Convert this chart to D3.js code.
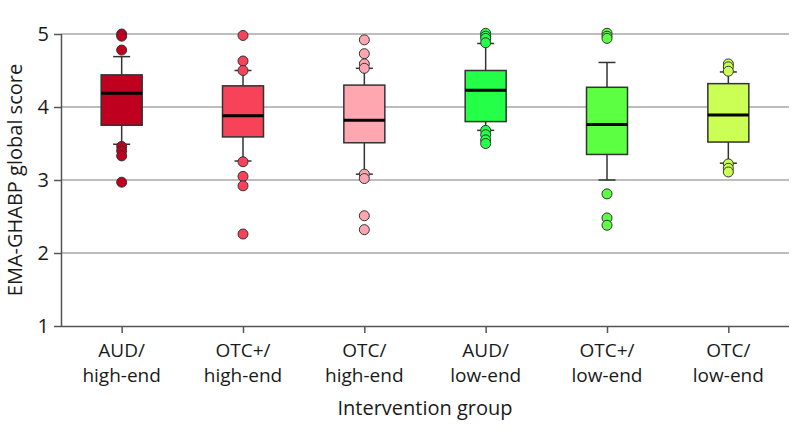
<!DOCTYPE html>
<html><head><meta charset="utf-8">
<script src="https://cdn.jsdelivr.net/npm/d3@7"></script>
<style>html,body{margin:0;padding:0;background:#fff;}svg{display:block;}</style>
</head><body>
<svg id="c" width="794" height="437"></svg>
<script>
const categories = ["AUD/|high-end","OTC+/|high-end","OTC/|high-end","AUD/|low-end","OTC+/|low-end","OTC/|low-end"];
const colors = ["#c0001f","#f6435a","#ffa7b1","#24ff47","#5cff41","#cbff55"];
const whiskerLow  = [3.49, 3.26, 3.08, 3.68, 3.00, 3.23];
const q1          = [3.75, 3.59, 3.51, 3.80, 3.35, 3.52];
const median      = [4.19, 3.88, 3.82, 4.23, 3.76, 3.89];
const q3          = [4.44, 4.29, 4.30, 4.50, 4.27, 4.32];
const whiskerHigh = [4.69, 4.50, 4.53, 4.87, 4.61, 4.48];
const outliers = [
  [5.00, 4.97, 4.78, 3.46, 3.40, 3.33, 2.97],
  [4.98, 4.63, 4.50, 3.25, 3.05, 2.92, 2.26],
  [4.92, 4.73, 4.59, 4.53, 3.08, 3.02, 2.51, 2.32],
  [5.01, 4.97, 4.94, 4.88, 3.68, 3.62, 3.55, 3.50],
  [5.01, 4.97, 4.94, 2.81, 2.48, 2.38],
  [4.59, 4.55, 4.49, 3.22, 3.16, 3.11]
];
const yTicks = [1,2,3,4,5];

(function(){
const svg = d3.select("#c");
const font = "'Open Sans', sans-serif";
const mL = 61, mR = 789, mT = 34, mB = 326;
const x = d3.scalePoint().domain(d3.range(categories.length)).range([mL, mR]).padding(0.5);
const y = d3.scaleLinear().domain([1,5]).range([mB, mT]);

// gridlines
svg.append("g").selectAll("line").data(yTicks.slice(1)).join("line")
  .attr("x1", mL).attr("x2", mR).attr("y1", d=>y(d)).attr("y2", d=>y(d))
  .attr("stroke", "#bdbdbd").attr("stroke-width", 2);

// axes
const ya = svg.append("g").attr("transform",`translate(${mL},0)`)
  .call(d3.axisLeft(y).tickValues(yTicks).tickSize(7).tickPadding(5).tickFormat(d3.format("d")));
const xa = svg.append("g").attr("transform",`translate(0,${mB})`)
  .call(d3.axisBottom(x).tickSize(7).tickFormat(""));
[ya, xa].forEach(g=>{
  g.selectAll("path").attr("stroke","#555").attr("stroke-width",1.5);
  g.selectAll("line").attr("stroke","#555").attr("stroke-width",1.5);
});
xa.select("path").attr("d", `M${mL},0.5H${mR}`);
ya.select("path").attr("d", `M0.5,${mB}V${mT}`);
ya.selectAll("text").attr("font-family",font).attr("font-size",20).attr("fill","#1a1a1a");

// category labels
const lab = svg.append("g");
categories.forEach((c,i)=>{
  const parts = c.split("|");
  const t = lab.append("text").attr("x", x(i)).attr("text-anchor","middle")
    .attr("font-family",font).attr("font-size",19).attr("fill","#1a1a1a");
  t.append("tspan").attr("x", x(i)).attr("y", 357).text(parts[0]);
  t.append("tspan").attr("x", x(i)).attr("y", 382).text(parts[1]);
});

svg.append("text").attr("x", (mL+mR)/2).attr("y", 415).attr("text-anchor","middle")
  .attr("font-family",font).attr("font-size",20).attr("fill","#1a1a1a").text("Intervention group");
svg.append("text").attr("transform",`translate(22,${(mT+mB)/2}) rotate(-90)`)
  .attr("text-anchor","middle").attr("font-family",font).attr("font-size",20).attr("fill","#1a1a1a")
  .text("EMA-GHABP global score");

// boxes
const bw = 41, cap = 17;
const g = svg.append("g").selectAll("g").data(categories.map((c,i)=>i)).join("g");
g.append("line").attr("x1",i=>x(i)).attr("x2",i=>x(i))
  .attr("y1",i=>y(whiskerHigh[i])).attr("y2",i=>y(q3[i])).attr("stroke","#333").attr("stroke-width",1.5);
g.append("line").attr("x1",i=>x(i)).attr("x2",i=>x(i))
  .attr("y1",i=>y(q1[i])).attr("y2",i=>y(whiskerLow[i])).attr("stroke","#333").attr("stroke-width",1.5);
g.append("line").attr("x1",i=>x(i)-cap/2).attr("x2",i=>x(i)+cap/2)
  .attr("y1",i=>y(whiskerHigh[i])).attr("y2",i=>y(whiskerHigh[i])).attr("stroke","#333").attr("stroke-width",1.5);
g.append("line").attr("x1",i=>x(i)-cap/2).attr("x2",i=>x(i)+cap/2)
  .attr("y1",i=>y(whiskerLow[i])).attr("y2",i=>y(whiskerLow[i])).attr("stroke","#333").attr("stroke-width",1.5);
g.append("rect").attr("x",i=>x(i)-bw/2).attr("width",bw)
  .attr("y",i=>y(q3[i])).attr("height",i=>y(q1[i])-y(q3[i]))
  .attr("fill",i=>colors[i]).attr("stroke","#333").attr("stroke-width",1.5);
g.append("line").attr("x1",i=>x(i)-bw/2).attr("x2",i=>x(i)+bw/2)
  .attr("y1",i=>y(median[i])).attr("y2",i=>y(median[i])).attr("stroke","#000").attr("stroke-width",3);
g.each(function(i){
  d3.select(this).selectAll("circle").data(outliers[i]).join("circle")
    .attr("cx", x(i)).attr("cy", d=>y(d)).attr("r", 5)
    .attr("fill", colors[i]).attr("stroke","#333").attr("stroke-width",1);
});
})();
</script>
</body></html>
